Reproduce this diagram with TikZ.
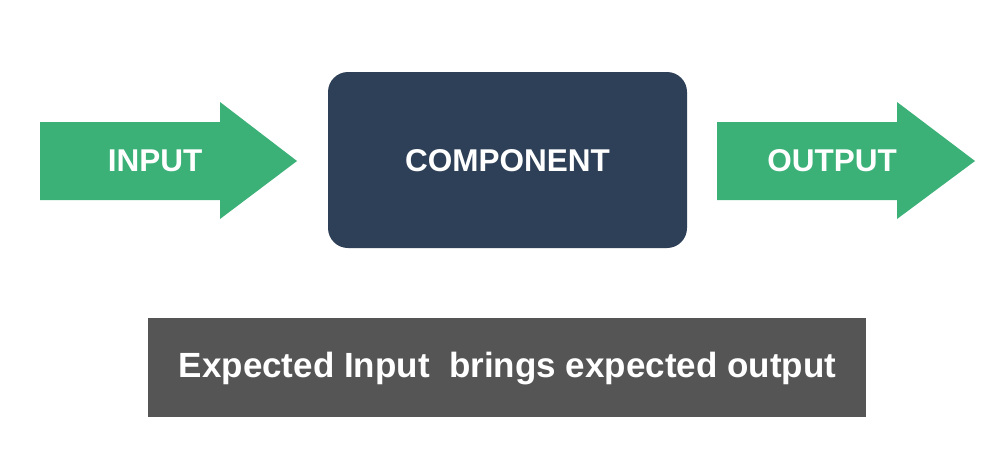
\documentclass[tikz,border=0pt]{standalone}
\usepackage{fontspec}
\setmainfont{Liberation Sans}
\definecolor{arrowgreen}{HTML}{3BB077}
\definecolor{navy}{HTML}{2E4057}
\definecolor{slate}{HTML}{555555}
\tikzset{
  bigarrow/.style={fill=arrowgreen, draw=none},
  lbl/.style={text=white, font=\bfseries\fontsize{31.5}{36}\selectfont},
  comp/.style={fill=navy, draw=none, rounded corners=20pt},
  note/.style={fill=slate, draw=none}
}
\begin{document}
\begin{tikzpicture}[x=1pt,y=-1pt]
\useasboundingbox (0,0) rectangle (1007,475);
\fill[white] (0,0) rectangle (1007,475);
% input arrow
\fill[bigarrow] (40,122) -- (220,122) -- (220,102) -- (297,161) -- (220,219) -- (220,200) -- (40,200) -- cycle;
\node[lbl] (in) at (155,161) {INPUT};
% component
\fill[comp] (328,72) rectangle (687,248);
\node[lbl] (comp) at (507.5,161) {COMPONENT};
% output arrow
\fill[bigarrow] (717,122) -- (897,122) -- (897,102) -- (975,161) -- (897,219) -- (897,200) -- (717,200) -- cycle;
\node[lbl] (out) at (832,161) {OUTPUT};
% note
\fill[note] (148,318) rectangle (866,417);
\node[lbl, font=\bfseries\fontsize{35}{40}\selectfont] (txt) at (507.5,369) {Expected Input\ \ brings expected output};
\end{tikzpicture}
\end{document}
